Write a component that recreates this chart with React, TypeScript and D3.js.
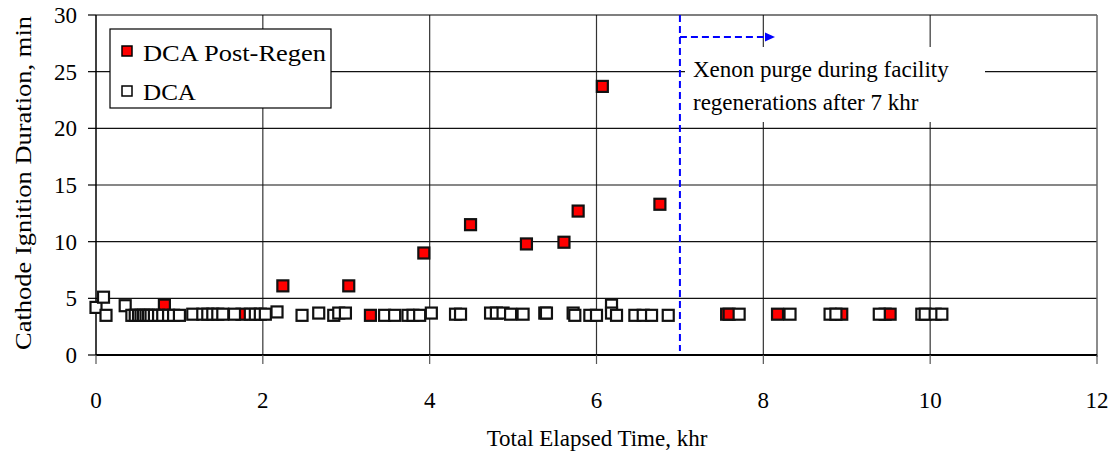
import React from "react";
import * as d3 from "d3";

const xTicks = [0, 2, 4, 6, 8, 10, 12];
const yTicks = [0, 5, 10, 15, 20, 25, 30];

const seriesNames = ["DCA Post-Regen", "DCA"];

const regenX = [0.82, 1.75, 2.24, 3.03, 3.29, 3.93, 4.49, 5.16, 5.61, 5.78, 6.07, 6.76, 7.56, 7.59, 8.17, 8.94, 9.46, 9.52];
const regenY = [4.4, 3.6, 6.1, 6.1, 3.5, 9.0, 11.5, 9.8, 9.95, 12.7, 23.7, 13.3, 3.6, 3.6, 3.6, 3.6, 3.6, 3.6];

const dcaX = [
  0.0, 0.09, 0.12, 0.35,
  0.43, 0.47, 0.51, 0.54, 0.57, 0.6, 0.63, 0.66, 0.7, 0.75, 0.8, 0.87, 0.93, 1.0, 1.16,
  1.28, 1.34, 1.4, 1.46, 1.52,
  1.66, 1.85, 1.91, 1.97, 2.03, 2.17,
  2.47, 2.67, 2.85, 2.91, 2.99,
  3.46, 3.58, 3.74, 3.8, 3.88, 4.02, 4.31, 4.37,
  4.73, 4.8, 4.88, 4.97, 5.12,
  5.38, 5.4,
  5.72, 5.74, 5.92, 6.0, 6.18, 6.18, 6.24, 6.46, 6.56, 6.66, 6.86,
  7.71, 8.32, 8.8, 8.87, 9.39, 9.9, 9.94, 10.06, 10.14,
];
const dcaY = [
  4.2, 5.1, 3.5, 4.35,
  3.5, 3.5, 3.5, 3.5, 3.5, 3.5, 3.5, 3.5, 3.5, 3.5, 3.5, 3.5, 3.5, 3.5, 3.6,
  3.6, 3.6, 3.6, 3.6, 3.6,
  3.6, 3.6, 3.6, 3.6, 3.6, 3.8,
  3.5, 3.7, 3.5, 3.7, 3.7,
  3.5, 3.5, 3.5, 3.5, 3.5, 3.7, 3.6, 3.6,
  3.7, 3.7, 3.7, 3.6, 3.6,
  3.7, 3.7,
  3.7, 3.5, 3.5, 3.5, 4.4, 3.7, 3.5, 3.5, 3.5, 3.5, 3.5,
  3.6, 3.6, 3.6, 3.6, 3.6, 3.6, 3.6, 3.6, 3.6,
];

const annotationLines = ["Xenon purge during facility", "regenerations after 7 khr"];
const purgeStart = 7;

const W = 1115;
const H = 463;
const L = 96, R = 1097, T = 15, B = 355;
const FONT = "'Liberation Serif', 'Times New Roman', serif";
const FS = 23;

export default function App() {
  const x = d3.scaleLinear().domain([0, 12]).range([L, R]);
  const y = d3.scaleLinear().domain([0, 30]).range([B, T]);
  const ms = 11;

  const regen = regenX.map((v, i) => ({ x: v, y: regenY[i] }));
  const dca = dcaX.map((v, i) => ({ x: v, y: dcaY[i] }));

  const px = x(purgeStart);
  const arrowY = 37;
  const arrowEnd = 775;

  return (
    <svg width={W} height={H} style={{ position: "absolute", left: 0, top: 0, background: "#fff" }}
      fontFamily={FONT} fontSize={FS}>
      <rect x={0} y={0} width={W} height={H} fill="#fff" />
      {/* grid */}
      {xTicks.slice(1, -1).map((t) => (
        <line key={"gx" + t} x1={x(t)} x2={x(t)} y1={T} y2={B} stroke="#333" strokeWidth={1.2} />
      ))}
      {yTicks.slice(1, -1).map((t) => (
        <line key={"gy" + t} x1={L} x2={R} y1={y(t)} y2={y(t)} stroke="#111" strokeWidth={1.2} />
      ))}
      {/* frame */}
      <line x1={L} x2={R} y1={T} y2={T} stroke="#000" strokeWidth={1.2} />
      <line x1={R} x2={R} y1={T} y2={B + 2} stroke="#666" strokeWidth={1.5} />
      <line x1={L} x2={L} y1={T} y2={B} stroke="#000" strokeWidth={1.5} />
      <line x1={L} x2={R} y1={B} y2={B} stroke="#000" strokeWidth={1.8} />
      {/* ticks */}
      {yTicks.map((t) => (
        <g key={"yt" + t}>
          <line x1={L - 8} x2={L} y1={y(t)} y2={y(t)} stroke="#000" strokeWidth={1.2} />
          <text x={77} y={y(t)} dy="0.35em" textAnchor="end">{t}</text>
        </g>
      ))}
      {xTicks.map((t) => (
        <g key={"xt" + t}>
          <line x1={x(t)} x2={x(t)} y1={B} y2={B + 9} stroke="#555" strokeWidth={1.2} />
          <text x={x(t)} y={408} textAnchor="middle">{t}</text>
        </g>
      ))}
      {/* axis titles */}
      <text x={597} y={446} textAnchor="middle">Total Elapsed Time, khr</text>
      <text transform="translate(31,183) rotate(-90)" textAnchor="middle"
        textLength={334} lengthAdjust="spacingAndGlyphs">Cathode Ignition Duration, min</text>

      {/* annotation box */}
      <rect x={685} y={47} width={300} height={75} fill="#fff" />
      {annotationLines.map((s, i) => (
        <text key={s} x={693} y={77 + i * 33}>{s}</text>
      ))}
      <line x1={px} x2={px} y1={T} y2={B - 4} stroke="#0000ff" strokeWidth={2} strokeDasharray="7,4" />
      <line x1={px} x2={arrowEnd - 8} y1={arrowY} y2={arrowY} stroke="#0000ff" strokeWidth={2} strokeDasharray="7,4" />
      <path d={`M${arrowEnd},${arrowY} L${arrowEnd - 10},${arrowY - 4.5} L${arrowEnd - 10},${arrowY + 4.5} Z`} fill="#0000ff" />

      {/* series */}
      {regen.map((d, i) => (
        <rect key={"r" + i} x={x(d.x) - ms / 2} y={y(d.y) - ms / 2} width={ms} height={ms}
          fill="#ff0000" stroke="#111" strokeWidth={2.2} />
      ))}
      {dca.map((d, i) => (
        <rect key={"d" + i} x={x(d.x) - ms / 2} y={y(d.y) - ms / 2} width={ms} height={ms}
          fill="#fff" stroke="#111" strokeWidth={2.2} />
      ))}

      {/* legend */}
      <rect x={110} y={29} width={221} height={79} fill="#fff" stroke="#000" strokeWidth={1.2} />
      <rect x={122} y={46} width={10} height={10} fill="#ff0000" stroke="#000" strokeWidth={1.5} />
      <text x={143} y={61} textLength={183} lengthAdjust="spacingAndGlyphs">{seriesNames[0]}</text>
      <rect x={122} y={86} width={10} height={10} fill="#fff" stroke="#000" strokeWidth={1.5} />
      <text x={143} y={100} textLength={53} lengthAdjust="spacingAndGlyphs">{seriesNames[1]}</text>
    </svg>
  );
}
